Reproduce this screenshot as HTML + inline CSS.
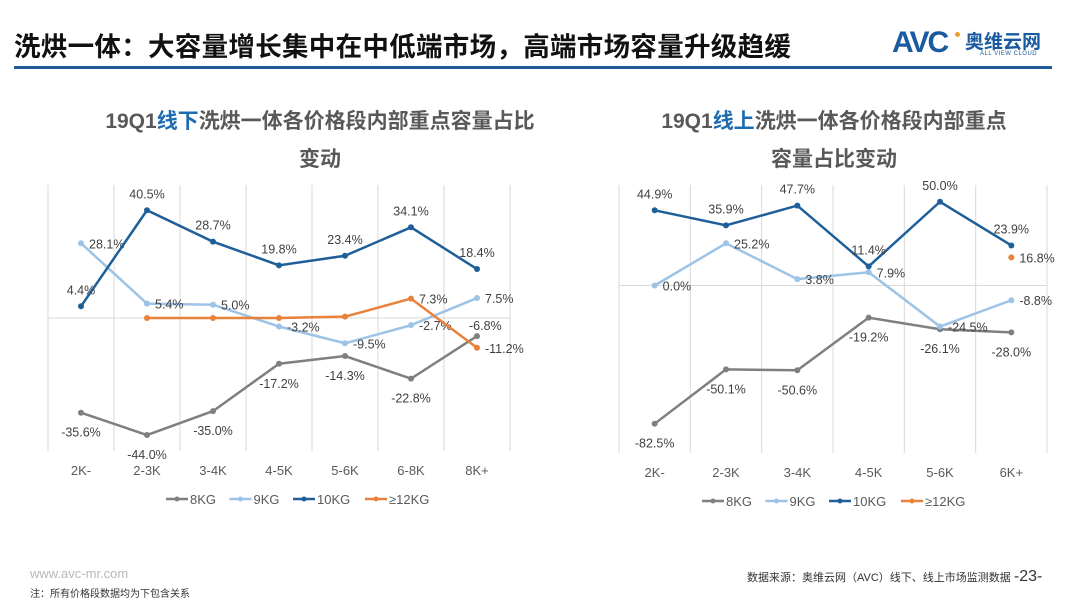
<!DOCTYPE html>
<html><head><meta charset="utf-8"><style>
body{margin:0;width:1080px;height:608px;background:#fff;overflow:hidden;position:relative;font-family:"Liberation Sans","Noto Sans CJK SC",sans-serif}
.abs{position:absolute;white-space:nowrap}
</style></head><body>
<div class="abs" style="left:14px;top:25px;font-size:26.5px;font-weight:bold;color:#111;letter-spacing:0.3px">洗烘一体：大容量增长集中在中低端市场，高端市场容量升级趋缓</div>
<div class="abs" style="left:892px;top:24px;width:165px;height:36px">
 <span class="abs" style="left:0;top:2px;font-size:30px;font-weight:bold;color:#1a5aa0;letter-spacing:-2px">AVC</span>
 <span class="abs" style="left:63px;top:8px;width:5px;height:5px;border-radius:50%;background:#f0a030"></span>
 <span class="abs" style="left:73px;top:3px;font-size:19px;font-weight:bold;color:#1a5aa0">奥维云网</span>
 <span class="abs" style="left:88px;top:27px;font-size:6px;color:#1a5aa0;letter-spacing:0.5px">ALL VIEW CLOUD</span>
</div>
<div class="abs" style="left:14px;top:66px;width:1038px;height:3px;background:#1f5c99"></div>

<div class="abs" style="left:60px;top:103px;width:520px;text-align:center;font-size:21px;font-weight:bold;color:#595959;line-height:38px">19Q1<span style="color:#1f6cb0">线下</span>洗烘一体各价格段内部重点容量占比<br>变动</div>
<div class="abs" style="left:600px;top:103px;width:468px;text-align:center;font-size:21px;font-weight:bold;color:#595959;line-height:38px">19Q1<span style="color:#1f6cb0">线上</span>洗烘一体各价格段内部重点<br>容量占比变动</div>

<svg id="chart" class="abs" style="left:0;top:0" width="1080" height="608"></svg>

<div class="abs" style="left:30px;top:566px;font-size:13px;color:#b8b8b8">www.avc-mr.com</div>
<div class="abs" style="left:30px;top:585px;font-size:10px;color:#333">注：所有价格段数据均为下包含关系</div>
<div class="abs" style="left:747px;top:568px;font-size:11px;color:#333">数据来源：奥维云网（AVC）线下、线上市场监测数据 <span style="font-size:16px">-23-</span></div>

<script>
const leftCats=["2K-","2-3K","3-4K","4-5K","5-6K","6-8K","8K+"];
const left8=[-35.6,-44.0,-35.0,-17.2,-14.3,-22.8,-6.8];
const left9=[28.1,5.4,5.0,-3.2,-9.5,-2.7,7.5];
const left10=[4.4,40.5,28.7,19.8,23.4,34.1,18.4];
const left12=[null,0,0,0,0.5,7.3,-11.2];
const left12Labels=[null,null,null,null,null,"7.3%","-11.2%"];
const rightCats=["2K-","2-3K","3-4K","4-5K","5-6K","6K+"];
const right8=[-82.5,-50.1,-50.6,-19.2,-26.1,-28.0];
const right9=[0.0,25.2,3.8,7.9,-24.5,-8.8];
const right10=[44.9,35.9,47.7,11.4,50.0,23.9];
const right12=[null,null,null,null,null,16.8];
const legendNames=["8KG","9KG","10KG","≥12KG"];

const NS="http://www.w3.org/2000/svg";
const svg=document.getElementById('chart');
const colors=["#7f7f7f","#9dc3e6","#1f5f99","#e8823a"];
function mk(t,a,p){const e=document.createElementNS(NS,t);for(const k in a)e.setAttribute(k,a[k]);(p||svg).appendChild(e);return e;}
function fmt(v){return v.toFixed(1)+"%";}

function drawChart(cfg){
  const n=cfg.cats.length, step=(cfg.x1-cfg.x0)/n;
  const X=i=>cfg.x0+step*(i+0.5);
  const Y=v=>cfg.yTop+(cfg.vMax-v)/(cfg.vMax-cfg.vMin)*(cfg.yBot-cfg.yTop);
  const g=mk('g',{});
  
  
  for(let i=0;i<=n;i++){
    const gl=mk('line',{x1:cfg.x0+step*i,x2:cfg.x0+step*i,y1:cfg.yTop,y2:cfg.yBot,stroke:"#d9d9d9","stroke-width":1},g);
    
    
  }
  const zl=mk('line',{x1:cfg.x0,x2:cfg.x1,y1:Y(0),y2:Y(0),stroke:"#d9d9d9","stroke-width":1},g);
  
  
  cfg.cats.forEach((c,i)=>{
    const t=mk('text',{x:X(i),y:cfg.yBot+24,"text-anchor":"middle","font-size":13,fill:"#595959"},g);
    t.textContent=c;
    
    
  });
  cfg.series.forEach((s,si)=>{
    const col=colors[si];
    let d="",pen=false;
    s.vals.forEach((v,i)=>{if(v==null){pen=false;return;}d+=(pen?"L":"M")+X(i)+" "+Y(v)+" ";pen=true;});
    if(d.split("L").length>1){
      const p=mk('path',{d:d,fill:"none",stroke:col,"stroke-width":2.5},g);
      
      
    }
    s.vals.forEach((v,i)=>{
      if(v==null)return;
      const c=mk('circle',{cx:X(i),cy:Y(v),r:3,fill:col},g);
      
      
      const lab=s.labels?s.labels[i]:fmt(v);
      if(!lab)return;
      let lx=X(i),ly=Y(v),anc="middle";
      let pos=s.pos;
      if(s.lastPos&&i===s.vals.length-1)pos=s.lastPos;
      if(pos==="above"){ly-=12;}
      else if(pos==="below"){ly+=24;}
      else if(pos==="aboveright"){lx+=-8;ly-=6;anc="start";}
      else {lx+=8;ly+=5;anc="start";}
      const t=mk('text',{x:lx,y:ly,"text-anchor":anc,"font-size":12.5,fill:"#404040"},g);
      t.textContent=lab;
      
      
    });
  });
  const lg=mk('g',{},g);
  
  
  let lx=cfg.legendX;
  legendNames.forEach((nm,i)=>{
    const e=mk('g',{},lg);
    
    
    mk('line',{x1:lx,x2:lx+22,y1:cfg.legendY,y2:cfg.legendY,stroke:colors[i],"stroke-width":2.5},e);
    mk('circle',{cx:lx+11,cy:cfg.legendY,r:2.5,fill:colors[i]},e);
    const t=mk('text',{x:lx+24,y:cfg.legendY+5,"font-size":13,fill:"#595959"},e);
    t.textContent=nm;
    lx+=24+nm.length*8.5+14;
  });
}
drawChart({name:"left-chart",cats:leftCats,x0:48,x1:510,yTop:185,yBot:451,vMin:-50,vMax:50,legendX:166,legendY:499,
 series:[{vals:left8,pos:"below",lastPos:"aboveright"},{vals:left9,pos:"right"},{vals:left10,pos:"above"},{vals:left12,pos:"right",labels:left12Labels}]});
drawChart({name:"right-chart",cats:rightCats,x0:619,x1:1047,yTop:185,yBot:453,vMin:-100,vMax:60,legendX:702,legendY:501,
 series:[{vals:right8,pos:"below"},{vals:right9,pos:"right"},{vals:right10,pos:"above"},{vals:right12,pos:"right"}]});
</script>
</body></html>
